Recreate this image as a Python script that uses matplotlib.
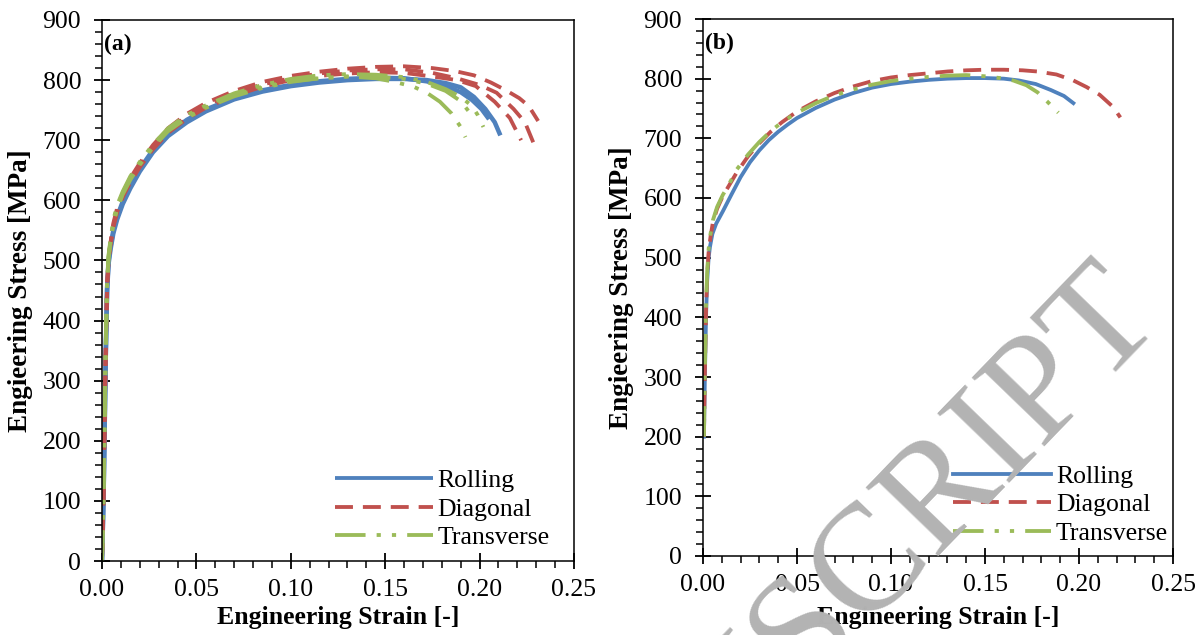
import matplotlib
matplotlib.use("Agg")
import matplotlib.pyplot as plt
from matplotlib.ticker import MultipleLocator, FormatStrFormatter

plt.rcParams['font.family'] = ['Liberation Serif', 'DejaVu Serif']

# ---------------- panel (a): several specimens per orientation ----------------
a_roll1_strain = [0, 0.0008, 0.0014, 0.002, 0.0027, 0.0035, 0.0045, 0.006, 0.008, 0.011, 0.015,
                  0.02, 0.027, 0.035, 0.045, 0.055, 0.07, 0.085, 0.1, 0.115, 0.13, 0.145, 0.16,
                  0.172, 0.182, 0.19, 0.197, 0.203, 0.208, 0.211]
a_roll1_stress = [0, 100, 220, 340, 450, 495, 518, 545, 568, 594, 620, 648, 680, 707, 730, 748,
                  768, 781, 790, 796, 800, 802, 802, 800, 795, 788, 772, 752, 730, 708]

a_roll2_strain = [0, 0.0008, 0.0014, 0.002, 0.0027, 0.0035, 0.0045, 0.006, 0.008, 0.011, 0.015,
                  0.02, 0.027, 0.035, 0.045, 0.055, 0.07, 0.085, 0.1, 0.115, 0.13, 0.145, 0.16,
                  0.172, 0.182, 0.19, 0.196, 0.201, 0.205]
a_roll2_stress = [0, 105, 225, 345, 455, 500, 523, 550, 573, 598, 625, 652, 684, 711, 734, 751,
                  770, 783, 792, 798, 802, 804, 803, 798, 790, 780, 767, 752, 735]

a_diag1_strain = [0, 0.0008, 0.0014, 0.002, 0.0027, 0.0035, 0.0045, 0.006, 0.008, 0.011, 0.015,
                  0.02, 0.027, 0.035, 0.045, 0.055, 0.07, 0.085, 0.1, 0.115, 0.13, 0.145, 0.16,
                  0.175, 0.187, 0.197, 0.206, 0.214, 0.221, 0.226, 0.231]
a_diag1_stress = [0, 110, 240, 360, 460, 505, 530, 562, 587, 612, 637, 662, 692, 720, 744, 762,
                  782, 797, 807, 814, 819, 822, 823, 820, 815, 808, 796, 783, 770, 757, 732]

a_diag2_strain = [0, 0.0008, 0.0014, 0.002, 0.0027, 0.0035, 0.0045, 0.006, 0.008, 0.011, 0.015,
                  0.02, 0.027, 0.035, 0.045, 0.055, 0.07, 0.085, 0.1, 0.115, 0.13, 0.145, 0.16,
                  0.175, 0.188, 0.2, 0.209, 0.218, 0.224, 0.229]
a_diag2_stress = [0, 108, 235, 355, 458, 503, 528, 558, 583, 608, 633, 658, 688, 716, 740, 758,
                  778, 793, 803, 811, 816, 818, 818, 812, 803, 792, 779, 752, 730, 692]

a_diag3_strain = [0, 0.0008, 0.0014, 0.002, 0.0027, 0.0035, 0.0045, 0.006, 0.008, 0.011, 0.015,
                  0.02, 0.027, 0.035, 0.045, 0.055, 0.07, 0.085, 0.1, 0.115, 0.13, 0.145, 0.16,
                  0.175, 0.188, 0.198, 0.208, 0.216, 0.222]
a_diag3_stress = [0, 105, 230, 350, 455, 500, 525, 555, 580, 605, 630, 655, 685, 712, 736, 754,
                  774, 789, 800, 807, 811, 813, 812, 806, 800, 790, 764, 737, 700]

a_trans1_strain = [0, 0.0008, 0.0014, 0.002, 0.0027, 0.0035, 0.0045, 0.006, 0.008, 0.011, 0.015,
                   0.02, 0.027, 0.035, 0.045, 0.055, 0.07, 0.085, 0.1, 0.115, 0.13, 0.145, 0.16,
                   0.172, 0.182, 0.19, 0.196, 0.199, 0.202]
a_trans1_stress = [0, 115, 245, 365, 465, 510, 535, 567, 592, 615, 640, 664, 693, 720, 742, 758,
                   778, 792, 802, 808, 810, 809, 805, 797, 785, 772, 757, 742, 722]

a_trans2_strain = [0, 0.0008, 0.0014, 0.002, 0.0027, 0.0035, 0.0045, 0.006, 0.008, 0.011, 0.015,
                   0.02, 0.027, 0.035, 0.045, 0.055, 0.07, 0.085, 0.1, 0.115, 0.13, 0.145, 0.155,
                   0.165, 0.172, 0.179, 0.185, 0.19, 0.1925]
a_trans2_stress = [0, 112, 240, 360, 462, 507, 532, 563, 588, 612, 637, 661, 690, 717, 739, 755,
                   775, 789, 798, 803, 806, 803, 797, 789, 779, 764, 745, 722, 705]

a_trans3_strain = [0, 0.0008, 0.0014, 0.002, 0.0027, 0.0035, 0.0045, 0.006, 0.008, 0.011, 0.015,
                   0.02, 0.027, 0.035, 0.045, 0.055, 0.07, 0.085, 0.1, 0.115, 0.13, 0.145, 0.16,
                   0.172, 0.182, 0.19, 0.195]
a_trans3_stress = [0, 110, 238, 358, 460, 505, 530, 560, 585, 610, 634, 659, 688, 715, 737, 754,
                   773, 787, 797, 803, 806, 806, 802, 794, 782, 765, 745]

# ---------------- panel (b): one representative curve per orientation ----------------
b_roll_strain = [0.0005, 0.001, 0.0016, 0.0022, 0.003, 0.0037, 0.005, 0.007, 0.0106, 0.015,
                 0.02, 0.025, 0.03, 0.035, 0.04, 0.045, 0.05, 0.06, 0.07, 0.08, 0.09, 0.1,
                 0.11, 0.12, 0.13, 0.14, 0.15, 0.16, 0.168, 0.177, 0.185, 0.192, 0.197]
b_roll_stress = [200, 300, 400, 460, 500, 518, 540, 557, 578, 605, 635, 660, 680, 697, 711,
                 723, 734, 751, 765, 776, 785, 791, 795, 798, 800, 801, 801, 800, 797, 791,
                 781, 771, 759]

b_diag_strain = [0.0005, 0.001, 0.0016, 0.0022, 0.003, 0.004, 0.0053, 0.0075, 0.0105, 0.0133,
                 0.018, 0.024, 0.03, 0.036, 0.042, 0.05, 0.06, 0.07, 0.08, 0.09, 0.1, 0.11,
                 0.12, 0.13, 0.14, 0.15, 0.16, 0.17, 0.178, 0.188, 0.197, 0.204, 0.211, 0.218,
                 0.222]
b_diag_stress = [200, 310, 410, 470, 510, 535, 560, 582, 603, 618, 643, 670, 692, 711, 727,
                 745, 762, 776, 787, 796, 802, 806, 809, 812, 814, 815, 815, 814, 812, 807,
                 797, 786, 773, 753, 735]

b_trans_strain = [0.0005, 0.001, 0.0016, 0.0022, 0.003, 0.004, 0.0053, 0.0075, 0.0105, 0.0133,
                  0.018, 0.024, 0.03, 0.036, 0.042, 0.05, 0.06, 0.07, 0.08, 0.09, 0.1, 0.11,
                  0.12, 0.13, 0.14, 0.15, 0.158, 0.165, 0.172, 0.178, 0.183, 0.189]
b_trans_stress = [200, 310, 415, 475, 515, 540, 563, 585, 605, 620, 648, 673, 694, 712, 727,
                  743, 759, 772, 782, 790, 796, 800, 803, 805, 806, 804, 801, 797, 789, 777,
                  762, 743]

legend_labels = ["Rolling", "Diagonal", "Transverse"]
x_ticks = [0.00, 0.05, 0.10, 0.15, 0.20, 0.25]
y_ticks = [0, 100, 200, 300, 400, 500, 600, 700, 800, 900]

BLUE, RED, GREEN = "#4F81BD", "#C0504D", "#9BBB59"
LW = 2.75
DASH = (4.7, 2.6)
DASHDOT = (8.0, 2.9, 1.1, 2.9, 1.1, 2.9)
FS = 18.5

fig = plt.figure(figsize=(12.02, 6.35), dpi=100)
ax_a = fig.add_axes([102 / 1202, 1 - 561 / 635, 472 / 1202, 541 / 635])
ax_b = fig.add_axes([703 / 1202, 1 - 556 / 635, 470 / 1202, 537 / 635])


def style_axes(ax, tag):
    ax.set_xlim(0, 0.25)
    ax.set_ylim(0, 900)
    ax.set_xticks(x_ticks)
    ax.set_yticks(y_ticks)
    ax.xaxis.set_major_formatter(FormatStrFormatter("%.2f"))
    ax.xaxis.set_minor_locator(MultipleLocator(0.01))
    ax.yaxis.set_minor_locator(MultipleLocator(20))
    ax.tick_params(which="major", direction="inout", length=12, width=1.3,
                   labelsize=18.5, color="black")
    ax.tick_params(which="minor", direction="out", length=5, width=1.1, color="black")
    ax.tick_params(axis="y", which="major", pad=9)
    ax.tick_params(axis="x", which="major", pad=7)
    for sp in ax.spines.values():
        sp.set_linewidth(1.1)
        sp.set_color("black")
    ax.set_xlabel("Engineering Strain [-]", fontsize=FS, fontweight="bold")
    ax.set_ylabel("Engieering Stress [MPa]", fontsize=FS + 1, fontweight="bold")
    ax.text(0.004, 0.975, tag, transform=ax.transAxes, ha="left", va="top",
            fontsize=17, fontweight="bold")


# panel (a)
ax_a.plot(a_roll1_strain, a_roll1_stress, color=BLUE, lw=LW + 0.5,
          solid_capstyle="butt", label=legend_labels[0])
ax_a.plot(a_roll2_strain, a_roll2_stress, color=BLUE, lw=LW + 0.5, solid_capstyle="butt")
ax_a.plot(a_diag1_strain, a_diag1_stress, color=RED, lw=LW, dashes=DASH,
          label=legend_labels[1])
ax_a.plot(a_diag2_strain, a_diag2_stress, color=RED, lw=LW, dashes=DASH)
ax_a.plot(a_diag3_strain, a_diag3_stress, color=RED, lw=LW, dashes=DASH)
ax_a.plot(a_trans1_strain, a_trans1_stress, color=GREEN, lw=LW, dashes=DASHDOT,
          label=legend_labels[2])
ax_a.plot(a_trans2_strain, a_trans2_stress, color=GREEN, lw=LW, dashes=DASHDOT)
ax_a.plot(a_trans3_strain, a_trans3_stress, color=GREEN, lw=LW, dashes=DASHDOT)
style_axes(ax_a, "(a)")

# panel (b)
ax_b.plot(b_roll_strain, b_roll_stress, color=BLUE, lw=LW, label=legend_labels[0])
ax_b.plot(b_diag_strain, b_diag_stress, color=RED, lw=LW, dashes=DASH, label=legend_labels[1])
ax_b.plot(b_trans_strain, b_trans_stress, color=GREEN, lw=LW, dashes=DASHDOT,
          label=legend_labels[2])
style_axes(ax_b, "(b)")

for ax, (lx, ly) in ((ax_a, (0.4936, 0.0961)), (ax_b, (0.532, 0.095))):
    leg = ax.legend(loc="center left", bbox_to_anchor=(lx, ly), frameon=False,
                    fontsize=FS, handlelength=3.8, handletextpad=0.2,
                    labelspacing=0.2, borderpad=0, borderaxespad=0)
    for line in leg.get_lines():
        line.set_linewidth(LW)

ax_a.xaxis.set_label_coords(0.5, -(606 - 561) / 541)
ax_b.xaxis.set_label_coords(0.5, -(606 - 556) / 537)
ax_a.yaxis.set_label_coords(-(102 - 33) / 472, 0.5)
ax_b.yaxis.set_label_coords(-(703 - 634) / 470, 0.5)

# diagonal watermark
fig.text(1165 / 1202, 1 - 322 / 635, "ACCEPTED MANUSCRIPT", rotation=46,
         rotation_mode="anchor", ha="right", va="baseline", fontsize=110,
         color="#b3b3b3", family="Liberation Serif")

fig.savefig("out.png", dpi=100)
